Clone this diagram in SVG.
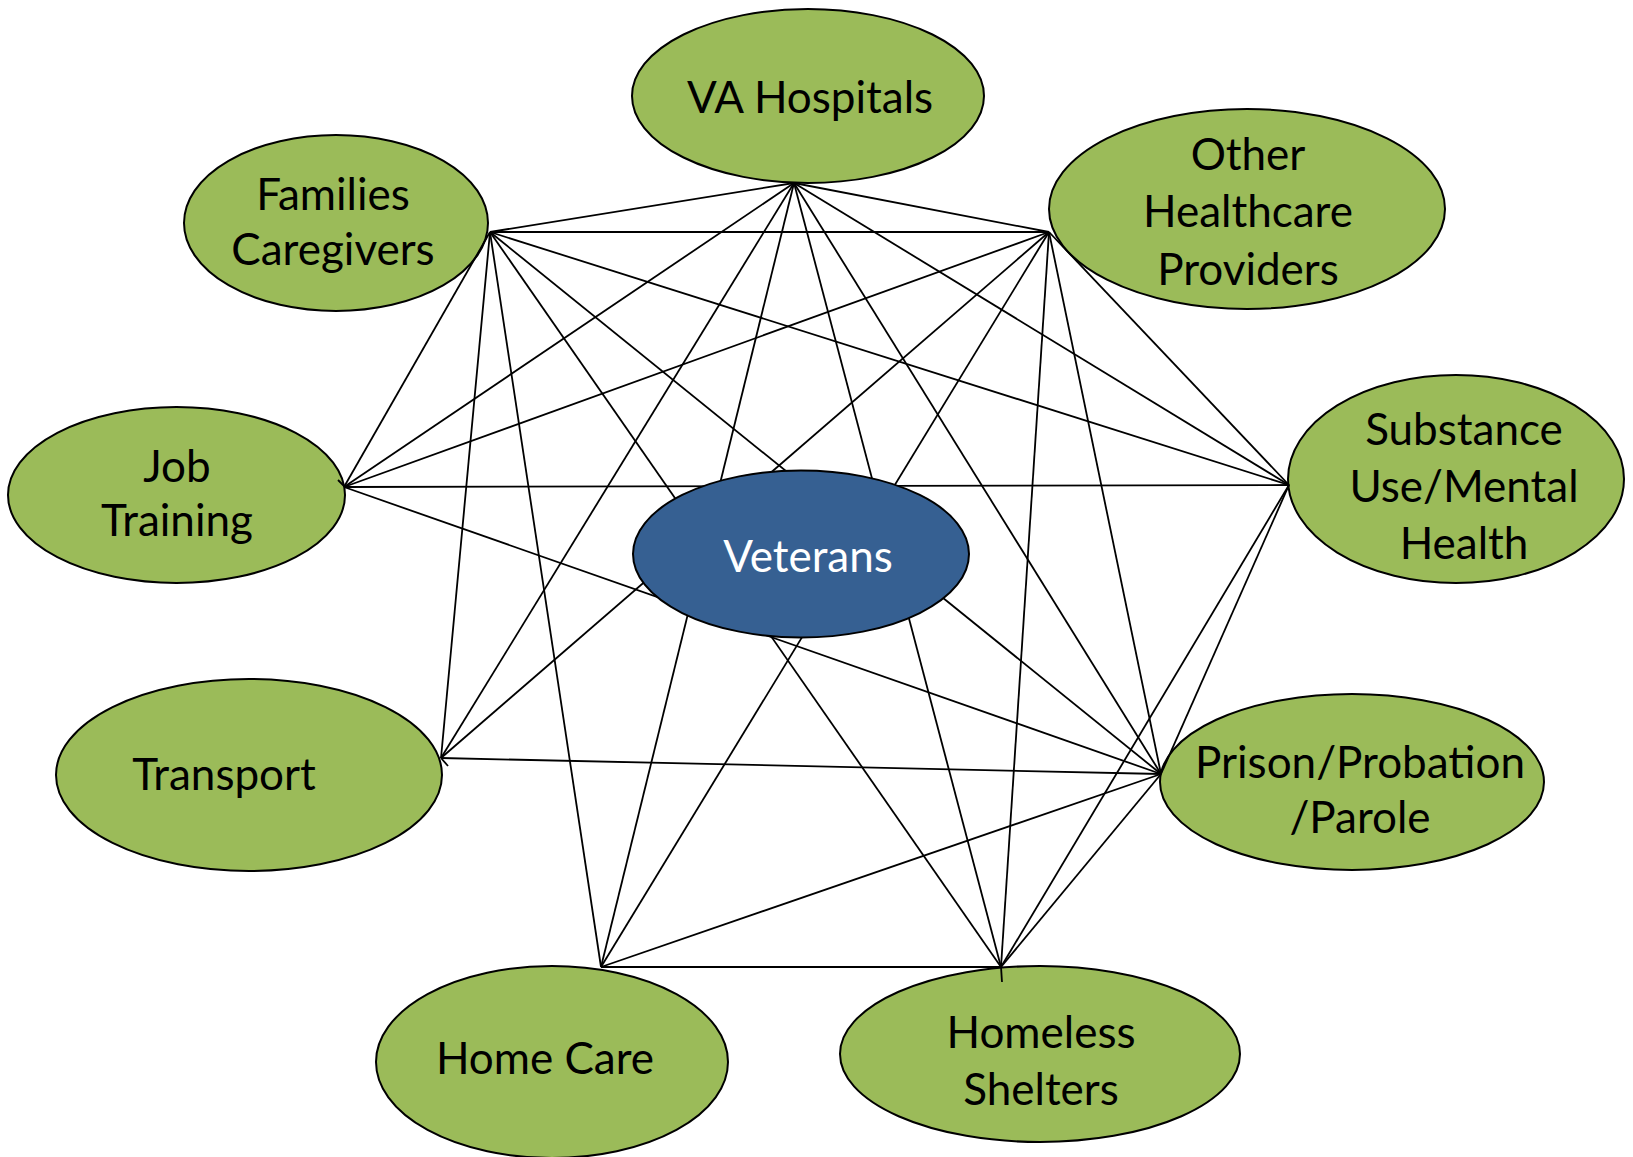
<svg xmlns="http://www.w3.org/2000/svg" width="1633" height="1157" viewBox="0 0 1633 1157">
<style>
.g{fill:#9BBB59;stroke:#000;stroke-width:2}
.b{fill:#366092;stroke:#000;stroke-width:2}
.t{font-family:Lato,"Open Sans",sans-serif;font-size:44px;fill:#000;text-anchor:middle}
.w{fill:#fff}
.c line,.c path{stroke:#000;stroke-width:1.8;fill:none}
</style>
<rect width="1633" height="1157" fill="#fff"/>
<g id="n-va"><ellipse class="g" cx="808" cy="96" rx="176" ry="87"/><text class="t" x="810" y="113">VA Hospitals</text></g>
<g id="n-families"><ellipse class="g" cx="336" cy="223" rx="152" ry="88"/><text class="t" x="333" y="210">Families</text><text class="t" x="333" y="265">Caregivers</text></g>
<g id="n-other"><ellipse class="g" cx="1247" cy="209" rx="198" ry="100"/><text class="t" x="1248" y="170">Other</text><text class="t" x="1248" y="227">Healthcare</text><text class="t" x="1248" y="285">Providers</text></g>
<g id="n-job"><ellipse class="g" cx="176.5" cy="495" rx="168.5" ry="88"/><text class="t" x="177" y="482">Job</text><text class="t" x="177" y="536">Training</text></g>
<g id="n-substance"><ellipse class="g" cx="1456" cy="479" rx="168" ry="104"/><text class="t" x="1464" y="445">Substance</text><text class="t" x="1464" y="502">Use/Mental</text><text class="t" x="1464" y="559">Health</text></g>
<g id="n-transport"><ellipse class="g" cx="249" cy="775" rx="193" ry="96"/><text class="t" x="224" y="790">Transport</text></g>
<g id="n-prison"><ellipse class="g" cx="1352" cy="782" rx="192" ry="88"/><text class="t" x="1360" y="778">Prison/Probation</text><text class="t" x="1360" y="833">/Parole</text></g>
<g id="n-homecare"><ellipse class="g" cx="552" cy="1062" rx="176" ry="96"/><text class="t" x="545" y="1074">Home Care</text></g>
<g id="n-homeless"><ellipse class="g" cx="1040" cy="1054" rx="200" ry="88"/><text class="t" x="1041" y="1048">Homeless</text><text class="t" x="1041" y="1105">Shelters</text></g>
<g id="connectors" class="c">
<line x1="794" y1="183" x2="490" y2="232"/>
<line x1="794" y1="183" x2="1049" y2="232"/>
<line x1="794" y1="183" x2="344" y2="487"/>
<line x1="794" y1="183" x2="441" y2="758"/>
<line x1="794" y1="183" x2="601" y2="967"/>
<line x1="794" y1="183" x2="1001" y2="967"/>
<line x1="794" y1="183" x2="1161" y2="774"/>
<line x1="794" y1="183" x2="1289" y2="485"/>
<line x1="490" y1="232" x2="1049" y2="232"/>
<line x1="490" y1="232" x2="344" y2="487"/>
<line x1="490" y1="232" x2="441" y2="758"/>
<line x1="490" y1="232" x2="601" y2="967"/>
<line x1="490" y1="232" x2="1001" y2="967"/>
<line x1="490" y1="232" x2="1161" y2="774"/>
<line x1="490" y1="232" x2="1289" y2="485"/>
<line x1="1049" y1="232" x2="344" y2="487"/>
<line x1="1049" y1="232" x2="441" y2="758"/>
<line x1="1049" y1="232" x2="601" y2="967"/>
<line x1="1049" y1="232" x2="1001" y2="967"/>
<line x1="1049" y1="232" x2="1161" y2="774"/>
<line x1="1049" y1="232" x2="1289" y2="485"/>
<line x1="344" y1="487" x2="1289" y2="485"/>
<line x1="344" y1="487" x2="1161" y2="774"/>
<line x1="441" y1="758" x2="1161" y2="774"/>
<line x1="601" y1="967" x2="1001" y2="967"/>
<line x1="601" y1="967" x2="1161" y2="774"/>
<line x1="1001" y1="967" x2="1289" y2="485"/>
<line x1="1001" y1="967" x2="1161" y2="774"/>
<line x1="1289" y1="485" x2="1161" y2="774"/>
<path d="M338 480L345 487"/>
<path d="M441 758L448 766"/>
<path d="M1001 967L1002 982"/>
</g>
<g id="n-veterans"><ellipse class="b" cx="801" cy="554" rx="168" ry="83.5"/><text class="t w" x="808" y="572">Veterans</text></g>
</svg>
